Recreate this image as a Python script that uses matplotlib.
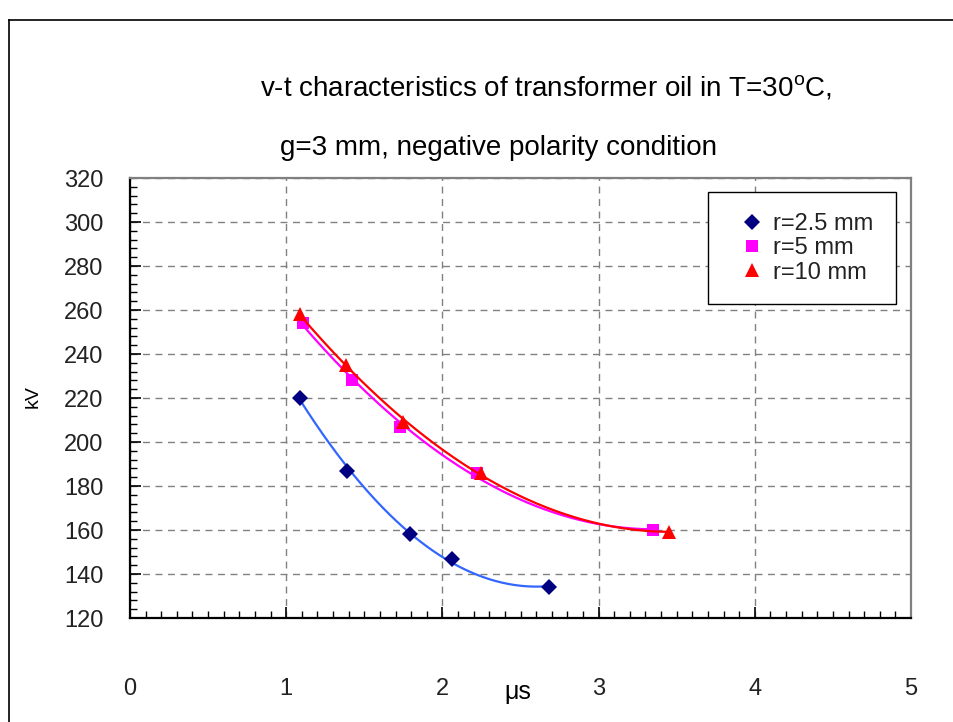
import matplotlib
matplotlib.use("Agg")
import matplotlib.pyplot as plt
from matplotlib.patches import Rectangle
from matplotlib.lines import Line2D
from matplotlib.ticker import MultipleLocator
import numpy as np

plt.rcParams['font.family'] = ['Liberation Sans', 'DejaVu Sans']
plt.rcParams['mathtext.fontset'] = 'custom'
plt.rcParams['mathtext.rm'] = 'Liberation Sans'

# ---- data (time in microseconds, breakdown voltage in kV) ----
t_r25 = [1.09, 1.39, 1.79, 2.06, 2.68]
v_r25 = [220, 187, 158, 147, 134]

t_r5 = [1.11, 1.42, 1.73, 2.22, 3.35]
v_r5 = [254, 228, 207, 186, 160]

t_r10 = [1.09, 1.38, 1.75, 2.25, 3.45]
v_r10 = [258, 235, 209, 186, 159]

labels = ["r=2.5 mm", "r=5 mm", "r=10 mm"]
title1 = r"v-t characteristics of transformer oil in T=30$^{\mathrm{o}}$C,"
title2 = "g=3 mm, negative polarity condition"
xlabel = "\u03bcs"
ylabel = "kV"
xticks = [0, 1, 2, 3, 4, 5]
yticks = [120, 140, 160, 180, 200, 220, 240, 260, 280, 300, 320]
trend_degree = 2  # polynomial trendline order

W, H = 954, 722
fig = plt.figure(figsize=(W / 100, H / 100), dpi=100)
ax = fig.add_axes([130 / W, 1 - 618 / H, (911 - 130) / W, (618 - 178) / H])

series = [
    (t_r25, v_r25, '#3366FF', '#000080', 'D', 8.5, labels[0]),
    (t_r5, v_r5, '#FF00FF', '#FF00FF', 's', 8.5, labels[1]),
    (t_r10, v_r10, '#FF0000', '#FF0000', '^', 10, labels[2]),
]
handles = []
for k, (xs, ys, lc, mc, mk, ms, lab) in enumerate(series):
    coef = np.polyfit(xs, ys, trend_degree)
    xx = np.linspace(min(xs), max(xs), 200)
    ax.plot(xx, np.polyval(coef, xx), color=lc, lw=1.6, zorder=3 + 2 * k)
    h, = ax.plot(xs, ys, linestyle='none', marker=mk, color=mc, ms=ms,
                 markeredgewidth=0, zorder=4 + 2 * k, label=lab)
    handles.append(h)

ax.set_xlim(0, 5)
ax.set_ylim(120, 320)
ax.set_xticks(xticks)
ax.set_yticks(yticks)
ax.xaxis.set_minor_locator(MultipleLocator(0.1))
ax.yaxis.set_minor_locator(MultipleLocator(4))
ax.tick_params(axis='both', which='major', direction='in', length=8, width=1.2,
               labelsize=17, colors='black')
ax.tick_params(axis='both', which='minor', direction='in', length=5, width=1)
ax.tick_params(axis='x', which='major', pad=43)
ax.tick_params(axis='y', which='major', pad=19)
for lab in ax.get_xticklabels() + ax.get_yticklabels():
    lab.set_color('#222222')

ax.grid(True, which='major', color='#808080', linestyle=(0, (5, 4)), lw=1)
ax.set_axisbelow(True)

for s in ['left', 'bottom']:
    ax.spines[s].set_color('black')
    ax.spines[s].set_linewidth(1.6)
for s in ['top', 'right']:
    ax.spines[s].set_color('#808080')
    ax.spines[s].set_linewidth(1.6)

# titles & labels
fig.text(546 / W, 1 - 88 / H, title1, ha='center', va='center', fontsize=20)
fig.text(499 / W, 1 - 148 / H, title2, ha='center', va='center', fontsize=20)
fig.text(518 / W, 1 - 692 / H, xlabel, ha='center', va='center', fontsize=18)
fig.text(33 / W, 1 - 397 / H, ylabel, ha='center', va='center', fontsize=14,
         rotation=90)

# legend
fig.add_artist(Rectangle((708 / W, 1 - 304 / H), (896 - 708) / W, (304 - 192) / H,
                         transform=fig.transFigure, facecolor='white',
                         edgecolor='black', lw=1, zorder=10))
leg = fig.legend(handles=handles, loc='upper left',
                 bbox_to_anchor=(740 / W, 1 - 213 / H), frameon=False,
                 fontsize=17, handlelength=1.0, handletextpad=0.4,
                 labelspacing=0.1, borderpad=0, borderaxespad=0,
                 numpoints=1)
leg.set_zorder(11)
for t in leg.get_texts():
    t.set_color('#222222')

# outer chart border (top and left edges visible)
fig.add_artist(Line2D([9 / W, 9 / W], [-0.1, 1 - 20 / H], transform=fig.transFigure,
                      color='black', lw=1.2))
fig.add_artist(Line2D([9 / W, 1.1], [1 - 20 / H, 1 - 20 / H], transform=fig.transFigure,
                      color='black', lw=1.2))

fig.savefig("out.png", dpi=100)
